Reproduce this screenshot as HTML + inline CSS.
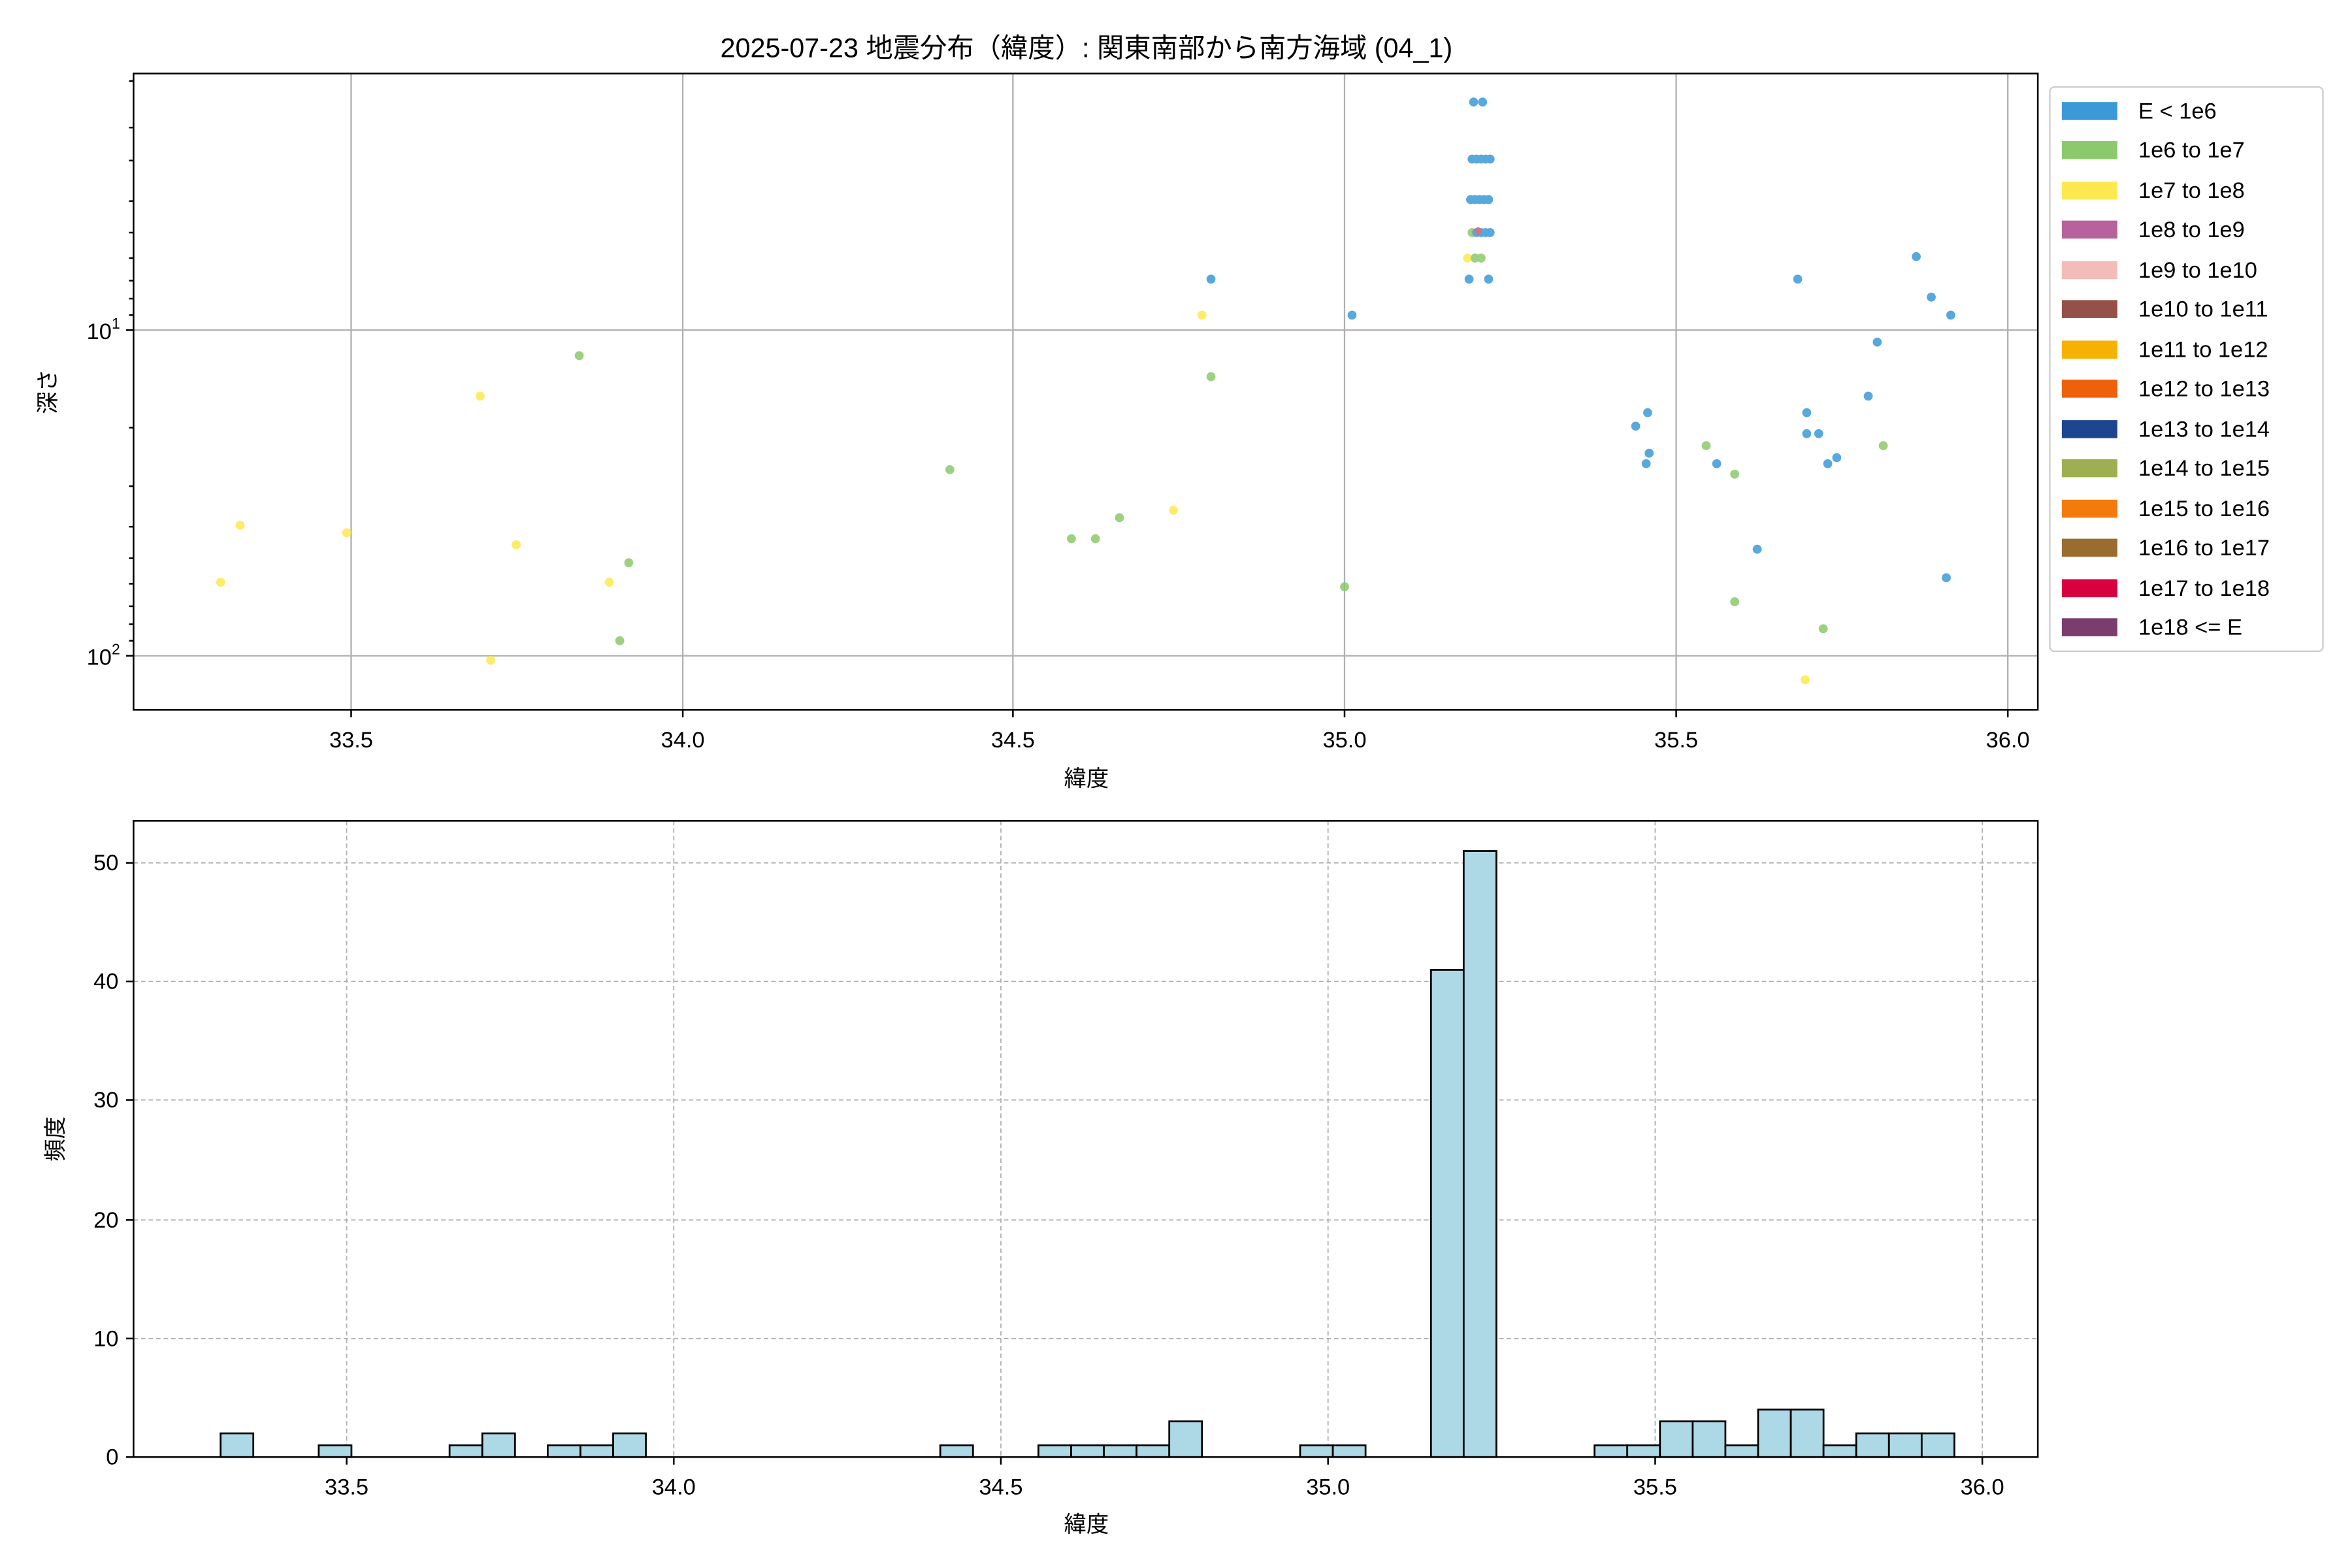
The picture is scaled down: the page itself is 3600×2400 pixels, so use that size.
<!DOCTYPE html>
<html><head><meta charset="utf-8"><style>html,body{margin:0;padding:0;background:#fff}svg{display:block}</style></head>
<body>
<svg xmlns="http://www.w3.org/2000/svg" width="3600" height="2400" viewBox="0 0 1560 1040" font-family="'Liberation Sans','Noto Sans CJK JP',sans-serif">
<rect width="1560" height="1040" fill="#fff"/>
<g transform="scale(0.9953)">
<text x="724" y="38" font-size="18" text-anchor="middle">2025-07-23 地震分布（緯度）: 関東南部から南方海域 (04_1)</text>
<g stroke="#b0b0b0" stroke-width="1">
<line x1="234" y1="49" x2="234" y2="473"/><line x1="455" y1="49" x2="455" y2="473"/><line x1="675" y1="49" x2="675" y2="473"/><line x1="896" y1="49" x2="896" y2="473"/><line x1="1117" y1="49" x2="1117" y2="473"/><line x1="1338" y1="49" x2="1338" y2="473"/>
<line x1="89" y1="220" x2="1358" y2="220"/><line x1="89" y1="437" x2="1358" y2="437"/>
</g>
<g opacity="0.85">
<g fill="#fce94f">
<circle cx="147" cy="388" r="3"/><circle cx="160" cy="350" r="3"/><circle cx="231" cy="355" r="3"/><circle cx="320" cy="264" r="3"/><circle cx="344" cy="363" r="3"/><circle cx="327" cy="440" r="3"/><circle cx="406" cy="388" r="3"/><circle cx="801" cy="210" r="3"/><circle cx="782" cy="340" r="3"/><circle cx="1203" cy="453" r="3"/><circle cx="978" cy="172" r="3"/>
</g>
<g fill="#8cc96c">
<circle cx="386" cy="237" r="3"/><circle cx="419" cy="375" r="3"/><circle cx="413" cy="427" r="3"/><circle cx="633" cy="313" r="3"/><circle cx="714" cy="359" r="3"/><circle cx="730" cy="359" r="3"/><circle cx="746" cy="345" r="3"/><circle cx="807" cy="251" r="3"/><circle cx="896" cy="391" r="3"/><circle cx="1137" cy="297" r="3"/><circle cx="1156" cy="316" r="3"/><circle cx="1156" cy="401" r="3"/><circle cx="1215" cy="419" r="3"/><circle cx="1255" cy="297" r="3"/><circle cx="981" cy="155" r="3"/><circle cx="983" cy="172" r="3"/><circle cx="987" cy="172" r="3"/>
</g>
<g fill="#3a9ad8">
<circle cx="807" cy="186" r="3"/><circle cx="901" cy="210" r="3"/><circle cx="982" cy="68" r="3"/><circle cx="988" cy="68" r="3"/>
<circle cx="981" cy="106" r="3"/><circle cx="984" cy="106" r="3"/><circle cx="987" cy="106" r="3"/><circle cx="990" cy="106" r="3"/><circle cx="993" cy="106" r="3"/>
<circle cx="980" cy="133" r="3"/><circle cx="983" cy="133" r="3"/><circle cx="986" cy="133" r="3"/><circle cx="989" cy="133" r="3"/><circle cx="992" cy="133" r="3"/>
<circle cx="984" cy="155" r="3"/><circle cx="987" cy="155" r="3"/><circle cx="990" cy="155" r="3"/><circle cx="993" cy="155" r="3"/>
<circle cx="979" cy="186" r="3"/><circle cx="992" cy="186" r="3"/><circle cx="1090" cy="284" r="3"/><circle cx="1097" cy="309" r="3"/><circle cx="1098" cy="275" r="3"/><circle cx="1099" cy="302" r="3"/><circle cx="1144" cy="309" r="3"/><circle cx="1171" cy="366" r="3"/><circle cx="1198" cy="186" r="3"/><circle cx="1204" cy="275" r="3"/><circle cx="1204" cy="289" r="3"/><circle cx="1212" cy="289" r="3"/><circle cx="1218" cy="309" r="3"/><circle cx="1224" cy="305" r="3"/><circle cx="1245" cy="264" r="3"/><circle cx="1251" cy="228" r="3"/><circle cx="1277" cy="171" r="3"/><circle cx="1287" cy="198" r="3"/><circle cx="1300" cy="210" r="3"/><circle cx="1297" cy="385" r="3"/>
</g>
<circle cx="985" cy="154" r="2.5" fill="#c0607a"/>
</g>
<rect x="89" y="49" width="1269" height="424" fill="none" stroke="#000" stroke-width="1.1"/>
<g stroke="#000" stroke-width="1.1">
<line x1="234" y1="473" x2="234" y2="478"/><line x1="455" y1="473" x2="455" y2="478"/><line x1="675" y1="473" x2="675" y2="478"/><line x1="896" y1="473" x2="896" y2="478"/><line x1="1117" y1="473" x2="1117" y2="478"/><line x1="1338" y1="473" x2="1338" y2="478"/>
<line x1="84" y1="220" x2="89" y2="220"/><line x1="84" y1="437" x2="89" y2="437"/>
<line x1="86" y1="54" x2="89" y2="54"/><line x1="86" y1="85" x2="89" y2="85"/><line x1="86" y1="107" x2="89" y2="107"/><line x1="86" y1="134" x2="89" y2="134"/><line x1="86" y1="155" x2="89" y2="155"/><line x1="86" y1="172" x2="89" y2="172"/><line x1="86" y1="187" x2="89" y2="187"/><line x1="86" y1="199" x2="89" y2="199"/><line x1="86" y1="210" x2="89" y2="210"/>
<line x1="86" y1="285" x2="89" y2="285"/><line x1="86" y1="324" x2="89" y2="324"/><line x1="86" y1="351" x2="89" y2="351"/><line x1="86" y1="372" x2="89" y2="372"/><line x1="86" y1="389" x2="89" y2="389"/><line x1="86" y1="404" x2="89" y2="404"/><line x1="86" y1="416" x2="89" y2="416"/><line x1="86" y1="427" x2="89" y2="427"/>
</g>
<g font-size="15" text-anchor="middle">
<text x="234" y="498">33.5</text><text x="455" y="498">34.0</text><text x="675" y="498">34.5</text><text x="896" y="498">35.0</text><text x="1117" y="498">35.5</text><text x="1338" y="498">36.0</text>
</g>
<text x="80" y="226" font-size="15" text-anchor="end">10<tspan font-size="10" dy="-7">1</tspan></text>
<text x="80" y="443" font-size="15" text-anchor="end">10<tspan font-size="10" dy="-7">2</tspan></text>
<text x="724" y="524" font-size="15" text-anchor="middle">緯度</text>
<text transform="translate(37,261) rotate(-90)" font-size="15" text-anchor="middle">深さ</text>
<rect x="1366" y="58" width="182" height="376" rx="3" fill="#fff" stroke="#ccc"/>
<g font-size="15">
<rect x="1374" y="68" width="37" height="12" fill="#3a9ad8"/><text x="1425" y="79">E &lt; 1e6</text>
<rect x="1374" y="94" width="37" height="12" fill="#8cc96c"/><text x="1425" y="105">1e6 to 1e7</text>
<rect x="1374" y="121" width="37" height="12" fill="#fce94f"/><text x="1425" y="132">1e7 to 1e8</text>
<rect x="1374" y="147" width="37" height="12" fill="#b8619f"/><text x="1425" y="158">1e8 to 1e9</text>
<rect x="1374" y="174" width="37" height="12" fill="#f4bcb8"/><text x="1425" y="185">1e9 to 1e10</text>
<rect x="1374" y="200" width="37" height="12" fill="#955048"/><text x="1425" y="211">1e10 to 1e11</text>
<rect x="1374" y="227" width="37" height="12" fill="#f7b100"/><text x="1425" y="238">1e11 to 1e12</text>
<rect x="1374" y="253" width="37" height="12" fill="#ee6009"/><text x="1425" y="264">1e12 to 1e13</text>
<rect x="1374" y="280" width="37" height="12" fill="#1e4690"/><text x="1425" y="291">1e13 to 1e14</text>
<rect x="1374" y="306" width="37" height="12" fill="#9daf50"/><text x="1425" y="317">1e14 to 1e15</text>
<rect x="1374" y="333" width="37" height="12" fill="#f47a0c"/><text x="1425" y="344">1e15 to 1e16</text>
<rect x="1374" y="359" width="37" height="12" fill="#9a6c2e"/><text x="1425" y="370">1e16 to 1e17</text>
<rect x="1374" y="386" width="37" height="12" fill="#d90040"/><text x="1425" y="397">1e17 to 1e18</text>
<rect x="1374" y="412" width="37" height="12" fill="#7b3c6e"/><text x="1425" y="423">1e18 &lt;= E</text>
</g>
<g stroke="#b0b0b0" stroke-width="0.8" stroke-dasharray="3,2">
<line x1="231" y1="547" x2="231" y2="971"/><line x1="449" y1="547" x2="449" y2="971"/><line x1="667" y1="547" x2="667" y2="971"/><line x1="885" y1="547" x2="885" y2="971"/><line x1="1103" y1="547" x2="1103" y2="971"/><line x1="1321" y1="547" x2="1321" y2="971"/>
<line x1="89" y1="892" x2="1358" y2="892"/><line x1="89" y1="813" x2="1358" y2="813"/><line x1="89" y1="733" x2="1358" y2="733"/><line x1="89" y1="654" x2="1358" y2="654"/><line x1="89" y1="575" x2="1358" y2="575"/>
</g>
<g fill="#add8e6" stroke="#000" stroke-width="1.2">
<rect x="147" y="955.2" width="21.8" height="15.8"/>
<rect x="212.4" y="963.1" width="21.8" height="7.9"/>
<rect x="299.6" y="963.1" width="21.8" height="7.9"/>
<rect x="321.4" y="955.2" width="21.8" height="15.8"/>
<rect x="365" y="963.1" width="21.8" height="7.9"/>
<rect x="386.8" y="963.1" width="21.8" height="7.9"/>
<rect x="408.6" y="955.2" width="21.8" height="15.8"/>
<rect x="626.6" y="963.1" width="21.8" height="7.9"/>
<rect x="692" y="963.1" width="21.8" height="7.9"/>
<rect x="713.8" y="963.1" width="21.8" height="7.9"/>
<rect x="735.6" y="963.1" width="21.8" height="7.9"/>
<rect x="757.4" y="963.1" width="21.8" height="7.9"/>
<rect x="779.2" y="947.2" width="21.8" height="23.8"/>
<rect x="866.4" y="963.1" width="21.8" height="7.9"/>
<rect x="888.2" y="963.1" width="21.8" height="7.9"/>
<rect x="953.6" y="646.3" width="21.8" height="324.7"/>
<rect x="975.4" y="567.1" width="21.8" height="403.9"/>
<rect x="1062.6" y="963.1" width="21.8" height="7.9"/>
<rect x="1084.4" y="963.1" width="21.8" height="7.9"/>
<rect x="1106.2" y="947.2" width="21.8" height="23.8"/>
<rect x="1128" y="947.2" width="21.8" height="23.8"/>
<rect x="1149.8" y="963.1" width="21.8" height="7.9"/>
<rect x="1171.6" y="939.3" width="21.8" height="31.7"/>
<rect x="1193.4" y="939.3" width="21.8" height="31.7"/>
<rect x="1215.2" y="963.1" width="21.8" height="7.9"/>
<rect x="1237" y="955.2" width="21.8" height="15.8"/>
<rect x="1258.8" y="955.2" width="21.8" height="15.8"/>
<rect x="1280.6" y="955.2" width="21.8" height="15.8"/>
</g>
<rect x="89" y="547" width="1269" height="424" fill="none" stroke="#000" stroke-width="1.1"/>
<g stroke="#000" stroke-width="1.1">
<line x1="231" y1="971" x2="231" y2="976"/><line x1="449" y1="971" x2="449" y2="976"/><line x1="667" y1="971" x2="667" y2="976"/><line x1="885" y1="971" x2="885" y2="976"/><line x1="1103" y1="971" x2="1103" y2="976"/><line x1="1321" y1="971" x2="1321" y2="976"/>
<line x1="84" y1="971" x2="89" y2="971"/><line x1="84" y1="892" x2="89" y2="892"/><line x1="84" y1="813" x2="89" y2="813"/><line x1="84" y1="733" x2="89" y2="733"/><line x1="84" y1="654" x2="89" y2="654"/><line x1="84" y1="575" x2="89" y2="575"/>
</g>
<g font-size="15" text-anchor="middle">
<text x="231" y="996">33.5</text><text x="449" y="996">34.0</text><text x="667" y="996">34.5</text><text x="885" y="996">35.0</text><text x="1103" y="996">35.5</text><text x="1321" y="996">36.0</text>
</g>
<g font-size="15" text-anchor="end">
<text x="79" y="976">0</text><text x="79" y="897">10</text><text x="79" y="818">20</text><text x="79" y="738">30</text><text x="79" y="659">40</text><text x="79" y="580">50</text>
</g>
<text x="724" y="1021" font-size="15" text-anchor="middle">緯度</text>
<text transform="translate(42,759) rotate(-90)" font-size="15" text-anchor="middle">頻度</text>
</g>
</svg>
</body></html>
